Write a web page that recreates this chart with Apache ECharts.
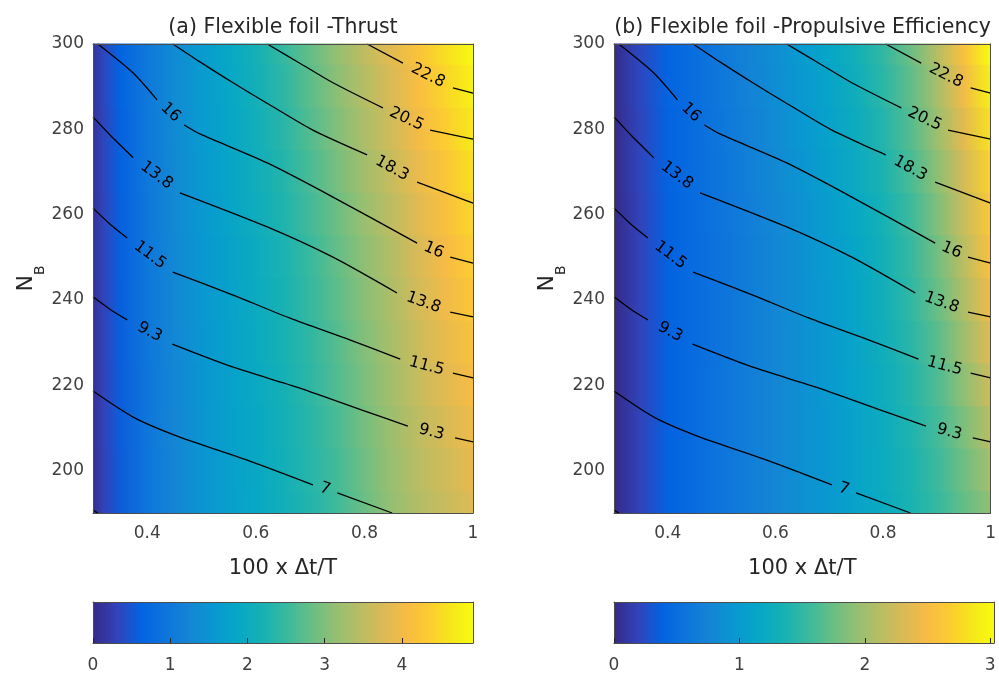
<!DOCTYPE html>
<html>
<head>
<meta charset="utf-8">
<title>Flexible foil</title>
<script src="https://cdn.jsdelivr.net/npm/echarts@6/dist/echarts.min.js"></script>
<style>
  html, body { margin: 0; padding: 0; background: #fff; }
  #chart { width: 999px; height: 674px; }
</style>
</head>
<body>
<div id="chart"></div>
<script>
// nodes of the colour field (x = 100 x dt/T, y = N_B)
var xNodes = [0.30, 0.32, 0.35, 0.40, 0.45, 0.50, 0.55, 0.60, 0.65, 0.70, 0.75, 0.80, 0.85, 0.90, 0.95, 1.00];
var yNodes = [300, 290, 280, 270, 260, 250, 240, 230, 220, 210, 200, 190];

// colour value read at each node, one row per yNodes entry
var fieldThrust = [
  [0.12, 0.35, 0.62, 1.00, 1.35, 1.62, 1.90, 2.15, 2.45, 2.80, 3.15, 3.50, 3.85, 4.20, 4.55, 4.90],
  [0.12, 0.35, 0.62, 1.00, 1.34, 1.61, 1.88, 2.12, 2.40, 2.74, 3.08, 3.42, 3.76, 4.11, 4.45, 4.79],
  [0.11, 0.34, 0.61, 0.99, 1.33, 1.60, 1.86, 2.09, 2.36, 2.68, 3.01, 3.34, 3.67, 4.02, 4.35, 4.68],
  [0.11, 0.34, 0.61, 0.99, 1.32, 1.58, 1.83, 2.06, 2.31, 2.62, 2.94, 3.26, 3.58, 3.93, 4.25, 4.57],
  [0.10, 0.33, 0.60, 0.98, 1.31, 1.57, 1.81, 2.03, 2.27, 2.56, 2.87, 3.18, 3.49, 3.84, 4.15, 4.46],
  [0.10, 0.33, 0.60, 0.98, 1.30, 1.55, 1.78, 2.00, 2.22, 2.50, 2.80, 3.10, 3.40, 3.75, 4.05, 4.35],
  [0.09, 0.32, 0.59, 0.97, 1.29, 1.54, 1.77, 1.98, 2.20, 2.47, 2.76, 3.06, 3.36, 3.69, 3.98, 4.26],
  [0.08, 0.32, 0.58, 0.97, 1.28, 1.53, 1.75, 1.96, 2.18, 2.43, 2.71, 3.01, 3.31, 3.63, 3.91, 4.17],
  [0.07, 0.31, 0.57, 0.96, 1.27, 1.52, 1.74, 1.94, 2.15, 2.40, 2.67, 2.97, 3.27, 3.57, 3.83, 4.07],
  [0.06, 0.31, 0.56, 0.96, 1.26, 1.51, 1.72, 1.92, 2.13, 2.36, 2.62, 2.92, 3.22, 3.50, 3.74, 3.96],
  [0.05, 0.30, 0.55, 0.95, 1.25, 1.50, 1.71, 1.91, 2.11, 2.33, 2.58, 2.88, 3.18, 3.45, 3.67, 3.88],
  [0.05, 0.30, 0.55, 0.95, 1.25, 1.50, 1.70, 1.90, 2.10, 2.30, 2.55, 2.85, 3.15, 3.40, 3.60, 3.80]
];
var fieldEff = [
  [0.00, 0.10, 0.22, 0.40, 0.50, 0.62, 0.74, 0.86, 1.00, 1.14, 1.30, 1.50, 1.75, 2.10, 2.55, 3.02],
  [0.00, 0.10, 0.22, 0.40, 0.50, 0.61, 0.73, 0.85, 0.98, 1.12, 1.27, 1.46, 1.70, 2.03, 2.46, 2.92],
  [0.00, 0.09, 0.21, 0.39, 0.49, 0.60, 0.71, 0.83, 0.96, 1.09, 1.24, 1.42, 1.65, 1.97, 2.37, 2.82],
  [0.00, 0.09, 0.21, 0.39, 0.49, 0.59, 0.70, 0.81, 0.93, 1.06, 1.21, 1.38, 1.60, 1.90, 2.28, 2.72],
  [0.00, 0.08, 0.20, 0.38, 0.48, 0.58, 0.68, 0.79, 0.91, 1.03, 1.17, 1.34, 1.55, 1.84, 2.21, 2.63],
  [0.00, 0.08, 0.20, 0.38, 0.48, 0.57, 0.67, 0.78, 0.89, 1.01, 1.14, 1.31, 1.51, 1.78, 2.14, 2.55],
  [0.00, 0.08, 0.20, 0.38, 0.48, 0.57, 0.67, 0.78, 0.89, 1.00, 1.13, 1.29, 1.48, 1.73, 2.07, 2.45],
  [0.00, 0.08, 0.20, 0.38, 0.48, 0.57, 0.67, 0.78, 0.88, 0.99, 1.12, 1.27, 1.45, 1.68, 1.99, 2.35],
  [0.00, 0.08, 0.20, 0.38, 0.48, 0.58, 0.68, 0.78, 0.88, 0.99, 1.11, 1.25, 1.42, 1.63, 1.91, 2.24],
  [0.00, 0.08, 0.20, 0.38, 0.48, 0.58, 0.68, 0.78, 0.88, 0.98, 1.10, 1.24, 1.39, 1.58, 1.83, 2.13],
  [0.00, 0.08, 0.20, 0.38, 0.48, 0.58, 0.68, 0.78, 0.88, 0.98, 1.10, 1.23, 1.37, 1.55, 1.77, 2.02],
  [0.00, 0.08, 0.20, 0.38, 0.48, 0.58, 0.68, 0.78, 0.88, 0.98, 1.10, 1.22, 1.36, 1.52, 1.72, 1.92]
];

var xTicks = [0.4, 0.6, 0.8, 1];
var yTicks = [200, 220, 240, 260, 280, 300];
var cbarTicksA = [0, 1, 2, 3, 4];
var cbarTicksB = [0, 1, 2, 3];
var cbarMaxA = 4.92;
var cbarMaxB = 3.03;

// contour lines (same in both panels), null = gap holding the label
var contourLevels = ['7', '9.3', '11.5', '13.8', '16', '18.3', '20.5', '22.8'];
var c7 = [[0.300, 218.6], [0.374, 212.5], [0.460, 207.8], [0.584, 202.4], [0.705, 196.6], null, [0.750, 194.7], [0.851, 190.0]];
var c9_3 = [[0.300, 240.7], [0.331, 237.8], [0.363, 235.3], null, [0.446, 229.6], [0.558, 224.2], [0.681, 219.3], [0.805, 213.7], [0.880, 210.4], null, [0.967, 207.6], [1.000, 206.7]];
var c11_5 = [[0.300, 261.5], [0.331, 257.8], [0.363, 254.5], null, [0.447, 246.5], [0.558, 241.1], [0.663, 235.7], [0.773, 230.6], [0.866, 226.1], null, [0.963, 222.8], [1.000, 221.7]];
var c13_8 = [[0.300, 282.9], [0.331, 278.7], [0.374, 273.3], null, [0.460, 265.1], [0.621, 257.1], [0.742, 250.0], [0.860, 241.6], null, [0.958, 237.1], [1.000, 236.0]];
var c16 = [[0.309, 300.0], [0.374, 293.2], [0.418, 286.9], null, [0.468, 281.0], [0.497, 278.9], [0.621, 272.1], [0.742, 264.1], [0.897, 253.3], null, [0.958, 250.0], [1.000, 248.6]];
var c18_3 = [[0.447, 300.0], [0.497, 295.8], [0.558, 290.9], [0.626, 285.7], [0.705, 279.8], [0.805, 274.0], null, [0.897, 267.6], [1.000, 262.7]];
var c20_5 = [[0.621, 300.0], [0.681, 295.5], [0.742, 290.9], [0.834, 285.0], null, [0.921, 279.8], [1.000, 277.7]];
var c22_8 = [[0.805, 300.0], [0.871, 295.5], null, [0.963, 289.7], [1.000, 288.5]];
var contourLines = [c7, c9_3, c11_5, c13_8, c16, c18_3, c20_5, c22_8];
var cornerLine = [[0.300, 190.7], [0.309, 190.0]];

// parula colormap
var parulaRGB = [[53, 42, 135], [50, 67, 186], [3, 99, 225], [13, 117, 220], [20, 133, 212], [9, 152, 209],
  [6, 167, 198], [22, 177, 180], [56, 185, 158], [101, 190, 134], [146, 191, 115], [183, 189, 100],
  [217, 186, 86], [248, 187, 68], [252, 206, 46], [245, 235, 24], [249, 251, 14]];
var parulaPos = [0, 4, 8, 12, 16, 20, 24, 28, 32, 36, 40, 44, 48, 52, 56, 60, 63].map(function (v) { return v / 63; });

var FONT = 'DejaVu Sans';
var frameColor = '#4d4d4d';
var plotA = { left: 93, top: 44, width: 380, height: 469 };
var plotB = { left: 614, top: 44, width: 381, height: 469 };

function parulaAt(t) {
  t = Math.max(0, Math.min(1, t));
  for (var k = 1; k < parulaPos.length; k++) {
    if (t <= parulaPos[k]) {
      var f = (t - parulaPos[k - 1]) / (parulaPos[k] - parulaPos[k - 1]);
      var a = parulaRGB[k - 1], b = parulaRGB[k];
      return 'rgb(' + [0, 1, 2].map(function (c) { return Math.round(a[c] + (b[c] - a[c]) * f); }).join(',') + ')';
    }
  }
  return 'rgb(' + parulaRGB[parulaRGB.length - 1].join(',') + ')';
}

var xMin = xNodes[0], xMax = xNodes[xNodes.length - 1];
var yMax = yNodes[0], yMin = yNodes[yNodes.length - 1];

// one horizontal band per row of the field, gradient across the columns
function fieldRenderer(field, maxVal) {
  return function (params, api) {
    var i = api.value(2);
    var y = yNodes[i];
    var yTop = Math.min(yMax, y + 5), yBot = Math.max(yMin, y - 5);
    var p0 = api.coord([xMin, yTop]);
    var p1 = api.coord([xMax, yBot]);
    var stops = xNodes.map(function (x, j) {
      return { offset: (x - xMin) / (xMax - xMin), color: parulaAt(field[i][j] / maxVal) };
    });
    return {
      type: 'rect',
      shape: { x: p0[0], y: p0[1] - 0.5, width: p1[0] - p0[0], height: p1[1] - p0[1] + 1 },
      style: { fill: new echarts.graphic.LinearGradient(0, 0, 1, 0, stops) }
    };
  };
}

function renderCbar(params, api) {
  var p0 = api.coord([api.value(0), api.value(3)]);
  var p1 = api.coord([api.value(2), api.value(1)]);
  var stops = parulaRGB.map(function (c, k) {
    return { offset: parulaPos[k], color: 'rgb(' + c.join(',') + ')' };
  });
  return {
    type: 'rect',
    shape: { x: p0[0], y: p0[1], width: p1[0] - p0[0], height: p1[1] - p0[1] },
    style: { fill: new echarts.graphic.LinearGradient(0, 0, 1, 0, stops) }
  };
}

function renderLabel(params, api) {
  var a = api.coord([api.value(0), api.value(1)]);
  var b = api.coord([api.value(2), api.value(3)]);
  var ang = Math.atan2(b[1] - a[1], b[0] - a[0]);
  return {
    type: 'text',
    x: (a[0] + b[0]) / 2,
    y: (a[1] + b[1]) / 2,
    rotation: -ang,
    style: {
      text: contourLevels[api.value(4)],
      fill: '#000',
      fontSize: 16,
      fontFamily: FONT,
      align: 'center',
      verticalAlign: 'middle'
    }
  };
}

// split contours into segments and collect label gaps
var segments = [];
var labelData = [];
contourLines.forEach(function (line, k) {
  var cur = [];
  line.forEach(function (p, n) {
    if (p === null) {
      segments.push(cur);
      cur = [];
      labelData.push([line[n - 1][0], line[n - 1][1], line[n + 1][0], line[n + 1][1], k]);
    } else {
      cur.push(p);
    }
  });
  segments.push(cur);
});
segments.push(cornerLine);

var tickText = { fontFamily: FONT, fontSize: 17, color: '#404040' };
var nameText = { fontFamily: FONT, fontSize: 21, color: '#262626' };
var lineStyle = { color: frameColor, width: 1 };

function plotXAxis(g) {
  return {
    gridIndex: g, type: 'value', min: xMin, max: xMax, position: 'bottom', z: 10,
    axisLine: { onZero: false, lineStyle: lineStyle },
    axisTick: { show: false },
    splitLine: { show: false },
    axisLabel: Object.assign({ customValues: xTicks, margin: 12 }, tickText),
    name: '100 x \u0394t/T', nameLocation: 'middle', nameGap: 45,
    nameTextStyle: nameText
  };
}
function plotYAxis(g) {
  return {
    gridIndex: g, type: 'value', min: yMin, max: yMax, position: 'left', z: 10,
    axisLine: { onZero: false, lineStyle: lineStyle },
    axisTick: { show: false },
    splitLine: { show: false },
    axisLabel: Object.assign({ customValues: yTicks, margin: 9 }, tickText),
    name: '{n|N}{s|B}', nameLocation: 'middle', nameGap: 51,
    nameTextStyle: {
      rich: {
        n: { fontFamily: FONT, fontSize: 22, lineHeight: 22, color: '#262626', padding: [0, 0, 10, 0] },
        s: { fontFamily: FONT, fontSize: 14, lineHeight: 14, color: '#262626', padding: [18, 0, 0, 0] }
      }
    }
  };
}
function frameAxis(g, pos, min, max) {
  return {
    gridIndex: g, type: 'value', min: min, max: max, position: pos, z: 10,
    axisLine: { onZero: false, lineStyle: lineStyle },
    axisTick: { show: false }, axisLabel: { show: false }, splitLine: { show: false }
  };
}
function cbarXAxis(g, maxVal, ticks) {
  return {
    gridIndex: g, type: 'value', min: 0, max: maxVal, position: 'bottom', z: 10,
    axisLine: { onZero: false, lineStyle: lineStyle },
    axisTick: { show: true, inside: true, length: 5, customValues: ticks, lineStyle: { color: '#262626' } },
    splitLine: { show: false },
    axisLabel: Object.assign({ customValues: ticks, margin: 14 }, tickText)
  };
}

var series = [];
[0, 1].forEach(function (g) {
  series.push({
    type: 'custom', xAxisIndex: g, yAxisIndex: g, silent: true, z: 1,
    renderItem: fieldRenderer(g === 0 ? fieldThrust : fieldEff, g === 0 ? cbarMaxA : cbarMaxB),
    data: yNodes.map(function (y, i) { return [xMin, y, i]; })
  });
  segments.forEach(function (seg) {
    series.push({
      type: 'line', xAxisIndex: g, yAxisIndex: g, silent: true, z: 3,
      data: seg, showSymbol: false, smooth: 0.25,
      lineStyle: { color: '#000', width: 1.3 }
    });
  });
  series.push({
    type: 'custom', xAxisIndex: g, yAxisIndex: g, silent: true, z: 4,
    renderItem: renderLabel, data: labelData
  });
});
series.push({
  type: 'custom', xAxisIndex: 4, yAxisIndex: 4, silent: true, z: 1,
  renderItem: renderCbar, data: [[0, 0, cbarMaxA, 1]]
});
series.push({
  type: 'custom', xAxisIndex: 5, yAxisIndex: 5, silent: true, z: 1,
  renderItem: renderCbar, data: [[0, 0, cbarMaxB, 1]]
});

var titleStyle = { fontFamily: FONT, fontSize: 20.5, fontWeight: 'normal', color: '#262626' };
var chart = echarts.init(document.getElementById('chart'));
chart.setOption({
  animation: false,
  backgroundColor: '#fff',
  textStyle: { fontFamily: FONT },
  title: [
    { text: '(a) Flexible foil -Thrust', left: plotA.left + plotA.width / 2, top: 17, padding: 0, textAlign: 'center', textStyle: titleStyle },
    { text: '(b) Flexible foil -Propulsive Efficiency', left: plotB.left + plotB.width / 2 - 2, top: 17, padding: 0, textAlign: 'center', textStyle: titleStyle }
  ],
  grid: [
    plotA,
    plotB,
    { left: 93, top: 602, width: 380, height: 42 },
    { left: 614, top: 602, width: 380, height: 42 }
  ],
  xAxis: [
    plotXAxis(0), plotXAxis(1),
    frameAxis(0, 'top', xMin, xMax), frameAxis(1, 'top', xMin, xMax),
    cbarXAxis(2, cbarMaxA, cbarTicksA), cbarXAxis(3, cbarMaxB, cbarTicksB),
    frameAxis(2, 'top', 0, cbarMaxA), frameAxis(3, 'top', 0, cbarMaxB)
  ],
  yAxis: [
    plotYAxis(0), plotYAxis(1),
    frameAxis(0, 'right', yMin, yMax), frameAxis(1, 'right', yMin, yMax),
    frameAxis(2, 'left', 0, 1), frameAxis(3, 'left', 0, 1),
    frameAxis(2, 'right', 0, 1), frameAxis(3, 'right', 0, 1)
  ],
  series: series
});
window.addEventListener('resize', chart.resize);
</script>
</body>
</html>
